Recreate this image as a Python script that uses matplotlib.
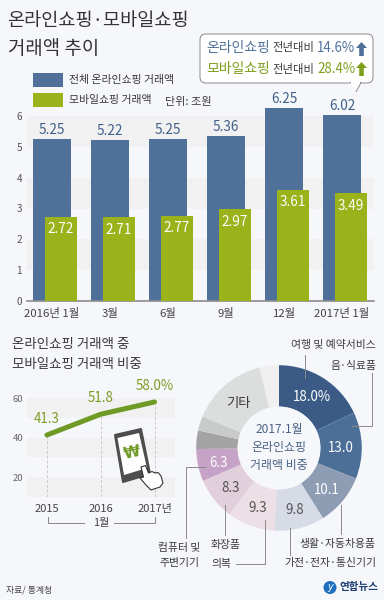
import numpy as np
import matplotlib
matplotlib.use("Agg")
import matplotlib.pyplot as plt
from matplotlib.patches import Rectangle, Polygon, FancyBboxPatch, Circle

plt.rcParams['font.family'] = ['Noto Sans CJK KR', 'DejaVu Sans']

BG = '#f6f7fb'
BLUE = '#4f7199'
GREEN = '#9ab31b'
LINE_GREEN = '#6f9a26'
TEXT = '#3a3a3a'
BAND = '#f1f1f2'

months = ['2016년 1월', '3월', '6월', '9월', '12월', '2017년 1월']
total = [5.25, 5.22, 5.25, 5.36, 6.25, 6.02]
mobile = [2.72, 2.71, 2.77, 2.97, 3.61, 3.49]

share_years = ['2015', '2016', '2017년']
share = [41.3, 51.8, 58.0]
share_labels = ['41.3', '51.8', '58.0%']

pie_values = [18.0, 13.0, 10.1, 9.8, 9.3, 8.3, 6.3, 3.6, 2.8, 15.0, 3.8]
pie_labels = ['18.0%', '13.0', '10.1', '9.8', '9.3', '8.3', '6.3', '', '', '기타', '']
pie_colors = ['#3b5b86', '#4c6f98', '#8e9db3', '#d6dbe6', '#ecdfe5', '#e1cfdb',
              '#c6a2c6', '#a3a3a3', '#c9cbcb', '#dcdedd', '#efefef']
pie_text = ['white', 'white', 'white', '#555555', '#555555', '#555555', 'white',
            TEXT, TEXT, TEXT, TEXT]

W, H = 384, 600


def px_axes(fig, left, top, right, bottom):
    return fig.add_axes([left / W, 1 - bottom / H, (right - left) / W, (bottom - top) / H])


fig = plt.figure(figsize=(3.84, 6.0), dpi=100, facecolor=BG)
ov = fig.add_axes([0, 0, 1, 1], zorder=5)
ov.set_xlim(0, W)
ov.set_ylim(H, 0)
ov.axis('off')

# titles
ov.text(7, 21, '온라인쇼핑·모바일쇼핑', fontsize=13.4, color='#333333', va='center')
ov.text(8, 48, '거래액 추이', fontsize=13.6, color='#333333', va='center')

# callout
ov.add_patch(FancyBboxPatch((204, 38), 165, 41, boxstyle='round,pad=4,rounding_size=6',
                            fc='white', ec='#8a8a8a', lw=0.7))
ov.add_patch(Polygon([[350, 82.5], [361, 82.5], [356, 92]], closed=False, fc='white', ec='#8a8a8a', lw=0.7))
ov.add_patch(Rectangle((351, 81), 9, 3, fc='white', ec='none'))
ov.text(206, 48, '온라인쇼핑', fontsize=10, color='#4f7199', va='center')
ov.text(272, 48, '전년대비', fontsize=8.2, color=TEXT, va='center')
ov.text(317, 48, '14.6%', fontsize=9.6, color='#4f7199', va='center')
ov.text(206, 69, '모바일쇼핑', fontsize=10, color='#7f9e1c', va='center')
ov.text(272, 69, '전년대비', fontsize=8.2, color=TEXT, va='center')
ov.text(317, 69, '28.4%', fontsize=9.6, color='#7f9e1c', va='center')
for y0, c in [(42, '#4f7199'), (62, '#7f9e1c')]:
    ov.add_patch(Polygon([[361.5, y0], [367, y0 + 6], [363.8, y0 + 6], [363.8, y0 + 14],
                          [359.2, y0 + 14], [359.2, y0 + 6], [356, y0 + 6]], fc=c, ec='none'))

# legend
ov.add_patch(Rectangle((33, 73), 30, 14, fc=BLUE, ec='none'))
ov.add_patch(Rectangle((33, 93), 30, 14, fc=GREEN, ec='none'))
ov.text(69, 80, '전체 온라인쇼핑 거래액', fontsize=7.85, color=TEXT, va='center')
ov.text(69, 100, '모바일쇼핑 거래액', fontsize=7.85, color=TEXT, va='center')
ov.text(165, 102, '단위: 조원', fontsize=8, color=TEXT, va='center')

# bar chart
ax = px_axes(fig, 27, 116, 374, 301)
ax.set_facecolor('none')
x = np.arange(len(months))
ax.set_xlim(-0.431, 5.55)
ax.set_ylim(0, 6)
for lo in [1, 3, 5]:
    ax.axhspan(lo, lo + 1, color=BAND, lw=0, zorder=0)
ax.bar(x, total, width=0.655, color=BLUE, clip_on=False, zorder=2)
ax.bar(x + 0.155, mobile, width=0.555, color=GREEN, zorder=3)
for i in x:
    ax.text(i, total[i] + 0.07, f'{total[i]:.2f}', ha='center', va='bottom',
            fontsize=9.8, color='#3f6088', clip_on=False)
    ax.text(i + 0.155, mobile[i] - 0.4, f'{mobile[i]:.2f}', ha='center', va='center',
            fontsize=9.8, color='white', zorder=4)
for s in ['top', 'left', 'right']:
    ax.spines[s].set_visible(False)
ax.spines['bottom'].set_color('#8c8c8c')
ax.spines['bottom'].set_linewidth(1.2)
ax.set_yticks(range(7))
ax.set_xticks(x)
ax.set_xticklabels(months, fontsize=8.2, color='#444444')
ax.tick_params(axis='both', length=0)
ax.tick_params(axis='x', pad=5)
ax.tick_params(axis='y', labelsize=7.2, labelcolor='#555555', pad=3.5)

# line chart title
ov.text(12, 344, '온라인쇼핑 거래액 중', fontsize=9.7, color=TEXT, va='center')
ov.text(12, 364, '모바일쇼핑 거래액 비중', fontsize=9.7, color=TEXT, va='center')

# line chart
lx = px_axes(fig, 27, 398, 175, 497)
lx.set_facecolor('none')
lx.set_xlim(-0.37, 2.38)
lx.set_ylim(10, 60)
for lo in [10, 30, 50]:
    lx.axhspan(lo, lo + 10, color=BAND, lw=0, zorder=0)
xs = np.arange(len(share))
lx.vlines(xs, 10, share, color='#c9c9c9', lw=0.7, linestyles=(0, (3, 2)), zorder=1)
lx.plot(xs, share, color=LINE_GREEN, lw=3.6, solid_capstyle='round', zorder=3, clip_on=False)
for i, lab in enumerate(share_labels):
    lx.text(i, share[i] + 8, lab, ha='center', va='center', fontsize=9.6,
            color='#7b9c25', clip_on=False)
for s in lx.spines.values():
    s.set_visible(False)
lx.set_yticks([20, 40, 60])
lx.set_xticks(xs)
lx.set_xticklabels(share_years, fontsize=8, color='#444444')
lx.tick_params(axis='both', length=0)
lx.tick_params(axis='x', pad=5)
lx.tick_params(axis='y', labelsize=6.8, labelcolor='#666666', pad=2.5)
lx.set_zorder(2)

# 1월 bracket
ov.plot([47.5, 47.5, 84], [517, 522.5, 522.5], color='#888888', lw=0.7)
ov.plot([114, 154.5, 154.5], [522.5, 522.5, 517], color='#888888', lw=0.7)
ov.text(101, 523, '1월', fontsize=8, color='#444444', ha='center', va='center')

# phone icon
ov.add_patch(Polygon([[115, 435], [141, 429], [150, 474], [123, 482]], fc='#4d4d4d', ec='#4d4d4d',
                     lw=1.5, joinstyle='round'))
ov.add_patch(Polygon([[117.5, 438], [139, 433], [147, 468], [124, 475]], fc='white', ec='none'))
ov.text(132, 453, '₩', fontsize=11, fontweight='bold', color='#6f9a26', ha='center', va='center',
        rotation=12, family='DejaVu Sans')
ov.add_patch(Polygon([[141, 467], [145.5, 465.5], [148.5, 473], [152, 471.5], [155, 473], [158, 472.5],
                      [161, 476], [163, 483], [160, 487], [151, 490], [146, 485], [140, 478], [143.5, 477]],
                     fc='white', ec='#333333', lw=0.8, joinstyle='round'))

# donut
dx = px_axes(fig, 190, 359, 368, 537)
dx.set_zorder(1)
wedges, _ = dx.pie(pie_values, startangle=90, counterclock=False, colors=pie_colors,
                   radius=0.93, wedgeprops=dict(width=0.93 / 2, lw=0))
dx.set_xlim(-1, 1)
dx.set_ylim(-1, 1)
dx.add_patch(Circle((0, 0), 0.465, fc=BG, ec='none', zorder=3))
cum = np.cumsum(pie_values)
total_pie = sum(pie_values)
for i, lab in enumerate(pie_labels):
    if not lab:
        continue
    mid = np.deg2rad(90 - (cum[i] - pie_values[i] / 2) / total_pie * 360)
    r = 0.70
    dx.text(r * np.cos(mid), r * np.sin(mid) - 0.02, lab, ha='center', va='center',
            fontsize=9.6, color=pie_text[i], zorder=4)
ov.text(279, 430, '2017.1월', fontsize=8.6, color='#4a6284', ha='center', va='center')
ov.text(279, 448, '온라인쇼핑', fontsize=8.6, color='#4a6284', ha='center', va='center')
ov.text(279, 466, '거래액 비중', fontsize=8.6, color='#4a6284', ha='center', va='center')

# leader lines
lc = '#8a8a8a'
ov.plot([305, 305], [355, 378], color=lc, lw=0.7)
ov.plot([372, 372, 352], [373, 426, 426], color=lc, lw=0.7)
ov.plot([341, 341], [505, 534], color=lc, lw=0.7)
ov.plot([290, 290], [528, 555], color=lc, lw=0.7)
ov.plot([264.5, 264.5, 236], [520, 564, 564], color=lc, lw=0.7)
ov.plot([225, 225], [505, 535], color=lc, lw=0.7)
ov.plot([205, 185.5, 185.5], [466.5, 466.5, 538], color=lc, lw=0.7)

ov.text(376, 345, '여행 및 예약서비스', fontsize=7.8, color=TEXT, ha='right', va='center')
ov.text(376, 366, '음·식료품', fontsize=7.8, color=TEXT, ha='right', va='center')
ov.text(376, 544, '생활·자동차용품', fontsize=7.8, color=TEXT, ha='right', va='center')
ov.text(376, 563, '가전·전자·통신기기', fontsize=7.8, color=TEXT, ha='right', va='center')
ov.text(211, 545, '화장품', fontsize=7.8, color=TEXT, ha='left', va='center')
ov.text(211, 564, '의복', fontsize=7.8, color=TEXT, ha='left', va='center')
ov.text(179, 548, '컴퓨터 및', fontsize=7.8, color=TEXT, ha='center', va='center')
ov.text(179, 563, '주변기기', fontsize=7.8, color=TEXT, ha='center', va='center')

ov.text(6, 590, '자료/ 통계청', fontsize=6.4, color='#444444', va='center', style='italic')

# logo
ov.add_patch(Circle((330, 587.5), 6.5, fc='#1f6fc0', ec='none'))
ov.text(330, 587.5, 'y', fontsize=7, color='white', ha='center', va='center', style='italic', family='DejaVu Sans')
ov.text(339, 587, '연합뉴스', fontsize=7.6, fontweight='bold', color='#1d3f72', va='center')

fig.savefig('out.png', dpi=100, facecolor=BG)
